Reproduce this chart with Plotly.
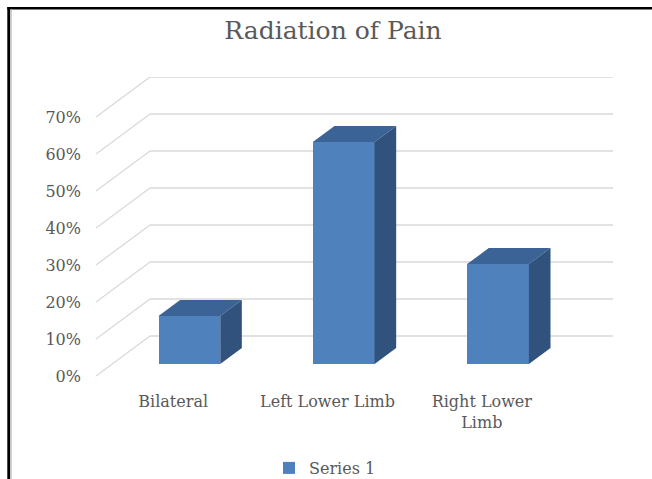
import plotly.graph_objects as go

categories = ["Bilateral", "Left Lower Limb", "Right Lower Limb"]
tick_text = ["Bilateral", "Left Lower Limb", "Right Lower<br>Limb"]
values = [13, 60, 27]
y_ticks = [0, 10, 20, 30, 40, 50, 60, 70]
y_tick_labels = [f"{v}%" for v in y_ticks]
series_name = "Series 1"

W, H = 652, 479
L, T = 96, 77
R, B = W - 613, H - 376
pw, ph = W - L - R, H - T - B

# 3D projection parameters (in data units)
DX, DY = 0.35, 10.81          # wall depth vector
OFF = 0.3                      # bar front position as fraction of depth
BD = 0.4                       # bar depth fraction
BW = 0.40                      # bar width
xr = [-0.5, 2.5 + DX]
yr = [0, 70 + DY]

FRONT = "#4F81BD"
TOP = "#3C6395"
SIDE = "#31527D"
GRID = "#D9D9D9"
TXT = "#595959"
FONT = "DejaVu Serif"

fig = go.Figure()
xs = [i + OFF * DX for i in range(len(values))]
base = OFF * DY
fig.add_trace(go.Bar(
    x=xs, y=values, base=base, width=BW, name=series_name,
    marker=dict(color=FRONT, line=dict(width=0)),
    showlegend=True, hoverinfo="skip",
))

shapes = []
for v in y_ticks:
    shapes.append(dict(type="line", xref="x", yref="y", x0=xr[0], y0=v,
                       x1=xr[0] + DX, y1=v + DY, line=dict(color=GRID, width=1.3),
                       layer="below"))
    shapes.append(dict(type="line", xref="x", yref="y", x0=xr[0] + DX, y0=v + DY,
                       x1=xr[1], y1=v + DY, line=dict(color=GRID, width=1.3),
                       layer="below"))

ddx, ddy = BD * DX, BD * DY
for xc, v in zip(xs, values):
    x0, x1 = xc - BW / 2, xc + BW / 2
    top = base + v
    shapes.append(dict(type="path", xref="x", yref="y",
                       path=f"M {x0},{top} L {x1},{top} L {x1+ddx},{top+ddy} L {x0+ddx},{top+ddy} Z",
                       fillcolor=TOP, line=dict(width=0), layer="above"))
    shapes.append(dict(type="path", xref="x", yref="y",
                       path=f"M {x1},{base} L {x1},{top} L {x1+ddx},{top+ddy} L {x1+ddx},{base+ddy} Z",
                       fillcolor=SIDE, line=dict(width=0), layer="above"))


def px_x(p):  # pixel -> paper x
    return (p - L) / pw


def px_y(p):  # pixel -> paper y
    return (H - B - p) / ph


shapes.append(dict(type="rect", xref="paper", yref="paper", x0=px_x(7.3), x1=px_x(10.3),
                   y0=px_y(7), y1=px_y(H), fillcolor="black", line=dict(width=0)))
shapes.append(dict(type="rect", xref="paper", yref="paper", x0=px_x(7.3), x1=px_x(W),
                   y0=px_y(7), y1=px_y(9.5), fillcolor="black", line=dict(width=0)))
shapes.append(dict(type="rect", xref="paper", yref="paper", x0=px_x(10.3), x1=px_x(12),
                   y0=px_y(9.5), y1=px_y(H), fillcolor="#D0D0D0", line=dict(width=0)))

fig.update_layout(
    width=W, height=H,
    margin=dict(l=L, r=R, t=T, b=B, autoexpand=False),
    paper_bgcolor="white", plot_bgcolor="white",
    shapes=shapes,
    title=dict(text="Radiation of Pain", x=333 / W, xanchor="center", xref="container",
               y=1 - 30 / H, yanchor="middle", yref="container",
               font=dict(family=FONT, size=25, color=TXT)),
    xaxis=dict(range=xr, tickvals=list(range(len(categories))), ticktext=tick_text,
               showgrid=False, zeroline=False, showline=False, ticks="",
               ticklabelstandoff=14,
               tickfont=dict(family=FONT, size=16, color=TXT)),
    yaxis=dict(range=yr, tickvals=y_ticks, ticktext=y_tick_labels,
               showgrid=False, zeroline=False, showline=False, ticks="",
               ticklabelstandoff=14,
               tickfont=dict(family=FONT, size=16, color=TXT)),
    legend=dict(orientation="h", x=px_x(269), xanchor="left", y=px_y(468), yanchor="middle",
                font=dict(family=FONT, size=16, color=TXT), itemwidth=30),
    bargap=0,
)

fig.write_html(
    "out.html",
    config={"displayModeBar": False},
    post_script="document.body.style.margin='0';document.body.style.overflow='hidden';",
)
